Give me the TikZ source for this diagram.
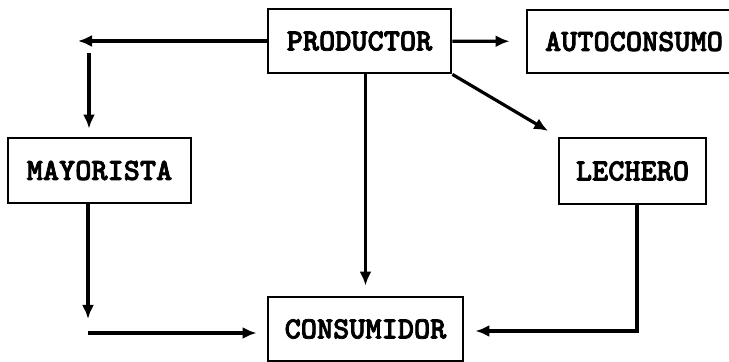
\documentclass[tikz,border=0pt]{standalone}
\usepackage{fontspec}
\newfontfamily\maquina[FakeBold=2.5]{lmmonolt10-bold.otf}
\usetikzlibrary{arrows.meta}

\begin{document}
\begin{tikzpicture}[x=0.5pt, y=-0.5pt,
	caja/.style={draw, line width=1.4pt, inner sep=0pt,
		font=\maquina\fontsize{15.4}{18}\selectfont},
	flecha/.style={line width=1.6pt, -{Latex[length=7pt,width=6pt]}}]
	\useasboundingbox (0,0) rectangle (729,362);
	\node[caja, minimum width=91.5pt, minimum height=32pt] (prod) at (359.5,41) {PRODUCTOR};
	\node[caja, minimum width=107pt, minimum height=31.5pt] (auto) at (634,41.5) {AUTOCONSUMO};
	\node[caja, minimum width=91.5pt, minimum height=32.5pt] (may) at (99.5,170.5) {MAYORISTA};
	\node[caja, minimum width=73.5pt, minimum height=33pt] (lech) at (632.5,171) {LECHERO};
	\node[caja, minimum width=97.5pt, minimum height=32pt] (cons) at (365.5,329) {CONSUMIDOR};
	\coordinate (izq) at (78,41);
	\coordinate (bajada) at (89,53);
	\coordinate (esquina) at (88,333);
	\coordinate (dcha) at (637,331);
	\draw[flecha] (prod) -- (izq);
	\draw[flecha, shorten >=4pt] (bajada) -- (bajada |- may.north);
	\draw[flecha, shorten >=8pt] (prod) -- (auto);
	\draw[flecha, shorten >=5pt] (prod.south -| cons.north) -- (cons.north);
	\draw[flecha, shorten >=5.5pt] (prod.south east) -- (lech.north west);
	\draw[flecha, shorten >=7pt] (may.south -| esquina) -- (esquina);
	\draw[flecha, shorten >=5pt] (esquina) -- (cons.west |- esquina);
	\draw[flecha, shorten >=5.5pt] (lech.south -| dcha) -- (dcha) -- (cons.east |- dcha);
\end{tikzpicture}
\end{document}
